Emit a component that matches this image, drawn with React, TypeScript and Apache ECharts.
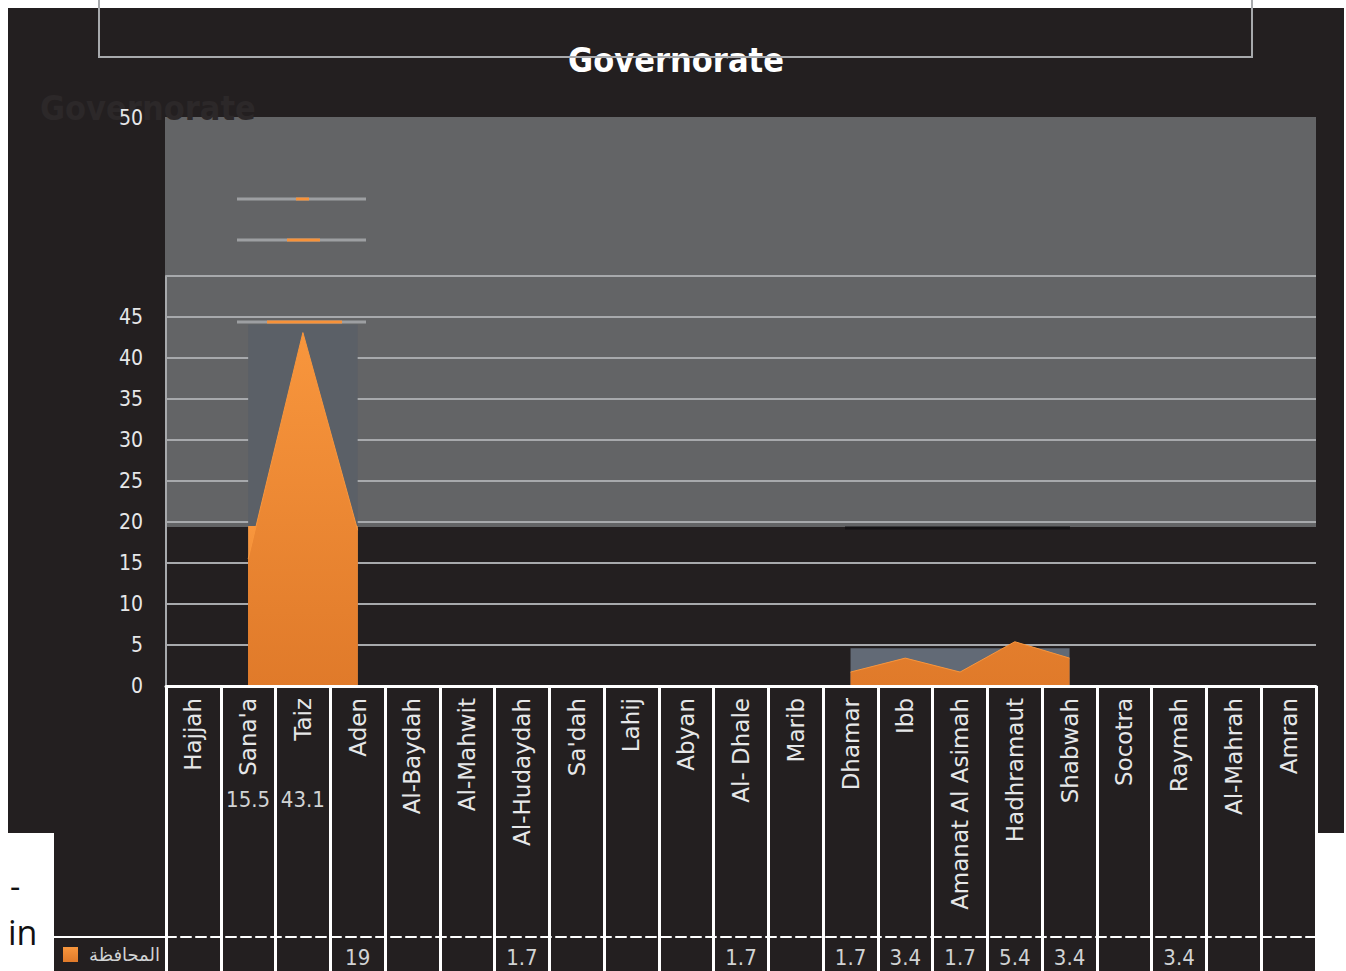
import React, { useEffect, useRef } from "react";
import * as echarts from "echarts";

const categories = [
  "Hajjah", "Sana'a", "Taiz", "Aden", "Al-Baydah", "Al-Mahwit", "Al-Hudaydah",
  "Sa'dah", "Lahij", "Abyan", "Al- Dhale", "Marib", "Dhamar", "Ibb",
  "Amanat Al Asimah", "Hadhramaut", "Shabwah", "Socotra", "Raymah", "Al-Mahrah", "Amran",
];
const values: (number | null)[] = [
  null, 15.5, 43.1, 19, null, null, 1.7,
  null, null, null, 1.7, null, 1.7, 3.4,
  1.7, 5.4, 3.4, null, 3.4, null, null,
];
// values whose table label sits just below the category name
const raisedValueCategories = ["Sana'a", "Taiz"];
const yTicks = [0, 5, 10, 15, 20, 25, 30, 35, 40, 45, 50];
const seriesName = "المحافظة";
const titleText = "Governorate";

const FONT = "'DejaVu Sans Condensed', 'DejaVu Sans', sans-serif";
const FONT_WIDE = "'DejaVu Sans', sans-serif";
const DARK = "#231f20";
const LABEL = "#e6e7e8";
const ORANGE_GRAD = () =>
  new echarts.graphic.LinearGradient(0, 0, 0, 1, [
    { offset: 0, color: "#f8963d" },
    { offset: 1, color: "#e07a2a" },
  ]);

export default function App() {
  const ref = useRef<HTMLDivElement>(null);

  useEffect(() => {
    if (!ref.current) return;
    const chart = echarts.init(ref.current, undefined, { renderer: "svg" });

    const leftCluster = values.slice(1, 4) as number[];
    const leftMax = Math.max(...leftCluster);

    const option: echarts.EChartsOption = {
      animation: false,
      backgroundColor: "#ffffff",
      grid: { left: 166, right: 30, top: 276, bottom: 285, containLabel: false },
      xAxis: [
        {
          type: "category",
          data: categories,
          boundaryGap: true,
          axisLine: { show: true, lineStyle: { color: "#ffffff", width: 3 } },
          axisTick: { show: true, interval: 0, length: 285, lineStyle: { color: "#ffffff", width: 3 } },
          axisLabel: {
            interval: 0,
            rotate: 90,
            margin: 12,
            color: LABEL,
            fontSize: 23,
            fontFamily: FONT_WIDE,
          },
          splitLine: { show: false },
          z: 5,
        },
        {
          type: "category",
          data: categories,
          boundaryGap: true,
          position: "bottom",
          offset: 251,
          axisLine: { show: true, lineStyle: { color: "#ffffff", width: 2, type: [10, 5] } },
          axisTick: { show: false },
          axisLabel: {
            interval: 0,
            margin: 9,
            color: "#d1d3d4",
            fontSize: 22,
            fontFamily: FONT,
            formatter: (_v: string, i: number) => {
              const v = values[i];
              if (v == null || raisedValueCategories.includes(categories[i])) return "";
              return String(v);
            },
          },
        },
        {
          type: "category",
          data: categories,
          boundaryGap: true,
          position: "bottom",
          offset: 100,
          axisLine: { show: false },
          axisTick: { show: false },
          axisLabel: {
            interval: 0,
            margin: 2,
            color: "#d1d3d4",
            fontSize: 22,
            fontFamily: FONT,
            formatter: (_v: string, i: number) => {
              const v = values[i];
              if (v == null || !raisedValueCategories.includes(categories[i])) return "";
              return String(v);
            },
          },
        },
      ],
      yAxis: {
        type: "value",
        min: yTicks[0],
        max: yTicks[yTicks.length - 1],
        interval: yTicks[1] - yTicks[0],
        axisLine: { show: true, lineStyle: { color: "#a7a9ac", width: 2 } },
        axisTick: { show: false },
        axisLabel: {
          margin: 23,
          color: LABEL,
          fontSize: 21,
          fontFamily: FONT,
          formatter: (v: number) => (v === yTicks[yTicks.length - 1] ? "" : String(v)),
        },
        splitLine: { show: true, lineStyle: { color: "#a7a9ac", width: 2 } },
      },
      series: [
        {
          type: "line",
          data: [],
          z: 1,
          silent: true,
          markArea: {
            silent: true,
            data: [
              [
                { xAxis: categories[1], yAxis: 0, itemStyle: { color: "#5b6067" } },
                { xAxis: categories[3], yAxis: leftMax + 1 },
              ],
              [
                { xAxis: categories[1], yAxis: 0, itemStyle: { color: ORANGE_GRAD() } },
                { xAxis: categories[3], yAxis: 19.5 },
              ],
              [
                { xAxis: categories[12], yAxis: 0, itemStyle: { color: "#626a76" } },
                { xAxis: categories[16], yAxis: 4.6 },
              ],
            ] as any,
          },
        },
        {
          name: seriesName,
          type: "line",
          data: values,
          connectNulls: false,
          showSymbol: false,
          symbol: "none",
          z: 3,
          lineStyle: { color: "#f8963d", width: 1 },
          areaStyle: { color: ORANGE_GRAD(), opacity: 1 },
        },
      ],
      graphic: [
        { type: "rect", z: -30, shape: { x: 8, y: 8, width: 1336, height: 825 }, style: { fill: DARK } },
        { type: "rect", z: -30, shape: { x: 54, y: 833, width: 1262, height: 138 }, style: { fill: DARK } },
        { type: "rect", z: -20, shape: { x: 165, y: 117, width: 1151, height: 410 }, style: { fill: "#636466" } },
        {
          type: "text", z: -15, x: 40, y: 108,
          style: { text: titleText, fill: "#2c2829", font: `bold 34px ${FONT}`, textVerticalAlign: "middle" },
        },
        {
          type: "text", z: 10, x: 676, y: 60,
          style: { text: titleText, fill: "#ffffff", font: `bold 34px ${FONT}`, textAlign: "center", textVerticalAlign: "middle" },
        },
        {
          type: "polyline", z: 11,
          shape: { points: [[99, 0], [99, 57], [1252, 57], [1252, 0]] },
          style: { stroke: "#a7a9ac", lineWidth: 2, fill: "none" },
        },
        {
          type: "text", z: 10, x: 143, y: 118,
          style: { text: String(yTicks[yTicks.length - 1]), fill: LABEL, font: `21px ${FONT}`, textAlign: "right", textVerticalAlign: "middle" },
        },
        // stray artifacts around the Taiz peak
        { type: "line", z: 4, shape: { x1: 237, y1: 199, x2: 366, y2: 199 }, style: { stroke: "#9d9fa2", lineWidth: 3 } },
        { type: "line", z: 5, shape: { x1: 296, y1: 199, x2: 309, y2: 199 }, style: { stroke: "#f7923a", lineWidth: 3 } },
        { type: "line", z: 4, shape: { x1: 237, y1: 240, x2: 366, y2: 240 }, style: { stroke: "#9d9fa2", lineWidth: 3 } },
        { type: "line", z: 5, shape: { x1: 287, y1: 240, x2: 320, y2: 240 }, style: { stroke: "#f7923a", lineWidth: 3 } },
        { type: "line", z: 4, shape: { x1: 237, y1: 322, x2: 366, y2: 322 }, style: { stroke: "#9d9fa2", lineWidth: 3 } },
        { type: "line", z: 5, shape: { x1: 267, y1: 322, x2: 342, y2: 322 }, style: { stroke: "#f7923a", lineWidth: 3 } },
        { type: "line", z: 4, shape: { x1: 845, y1: 528, x2: 1070, y2: 528 }, style: { stroke: "#141214", lineWidth: 3 } },
        // table legend cell
        { type: "line", z: 10, shape: { x1: 54, y1: 937, x2: 166, y2: 937 }, style: { stroke: "#ffffff", lineWidth: 2 } },
        { type: "rect", z: 10, shape: { x: 63, y: 947, width: 15, height: 15 }, style: { fill: ORANGE_GRAD() } },
        {
          type: "text", z: 10, x: 160, y: 954,
          style: { text: seriesName, fill: "#d1d3d4", font: `18px 'DejaVu Sans', sans-serif`, textAlign: "right", textVerticalAlign: "middle" },
        },
        // stray page text on the left
        {
          type: "text", z: 10, x: 10, y: 885,
          style: { text: "-", fill: "#111111", font: `32px 'Open Sans', sans-serif`, textVerticalAlign: "middle" },
        },
        {
          type: "text", z: 10, x: 8, y: 932,
          style: { text: "in", fill: "#111111", font: `34px 'Open Sans', sans-serif`, textVerticalAlign: "middle" },
        },
      ],
    };

    chart.setOption(option);
    return () => chart.dispose();
  }, []);

  return (
    <div
      ref={ref}
      style={{ position: "absolute", left: 0, top: 0, width: 1346, height: 971 }}
    />
  );
}
